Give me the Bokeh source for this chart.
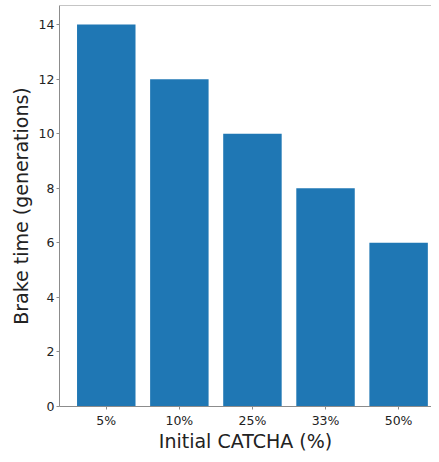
from bokeh.plotting import figure
from bokeh.models import ColumnDataSource, Range1d, FixedTicker, Span
from bokeh.embed import file_html
from bokeh.resources import INLINE

categories = ["5%", "10%", "25%", "33%", "50%"]
brake_time = [14, 12, 10, 8, 6]
y_ticks = [0, 2, 4, 6, 8, 10, 12, 14]

xpos = list(range(len(categories)))
src = ColumnDataSource(dict(x=xpos, top=brake_time, cat=categories))

y_end = max(brake_time) * 1.05

p = figure(width=431, height=454, output_backend="svg", toolbar_location=None,
           x_range=Range1d(-0.64, 4.45), y_range=Range1d(0, y_end),
           min_border_left=59, min_border_right=0, min_border_top=5, min_border_bottom=36)

p.vbar(x="x", top="top", width=0.8, source=src, fill_color="#1f77b4", line_color=None)

p.outline_line_color = None
p.xgrid.visible = False
p.ygrid.visible = False
p.background_fill_color = "white"

top_spine = Span(location=y_end, dimension="width", line_color="#8c8c8c", line_width=1)
p.add_layout(top_spine)

FONT = "DejaVu Sans"
p.xaxis.ticker = FixedTicker(ticks=xpos)
p.xaxis.major_label_overrides = {i: c for i, c in enumerate(categories)}
p.yaxis.ticker = FixedTicker(ticks=y_ticks)

for ax in (p.xaxis, p.yaxis):
    ax.axis_line_color = "#8c8c8c"
    ax.major_tick_line_color = "#8c8c8c"
    ax.major_tick_out = 3
    ax.major_tick_in = 0
    ax.minor_tick_line_color = None
    ax.major_label_text_font = FONT
    ax.major_label_text_font_size = "12.5px"
    ax.major_label_text_color = "#222222"
    ax.major_label_standoff = 2
    ax.axis_label_text_font = FONT
    ax.axis_label_text_font_size = "19px"
    ax.axis_label_text_font_style = "normal"
    ax.axis_label_text_color = "#222222"

p.xaxis.axis_label = "Initial CATCHA (%)"
p.yaxis.axis_label = "Brake time (generations)"
p.xaxis.major_label_standoff = 3
p.xaxis.axis_label_standoff = -1
p.yaxis.axis_label_standoff = 4

open("out.html", "w").write(file_html(p, INLINE))
